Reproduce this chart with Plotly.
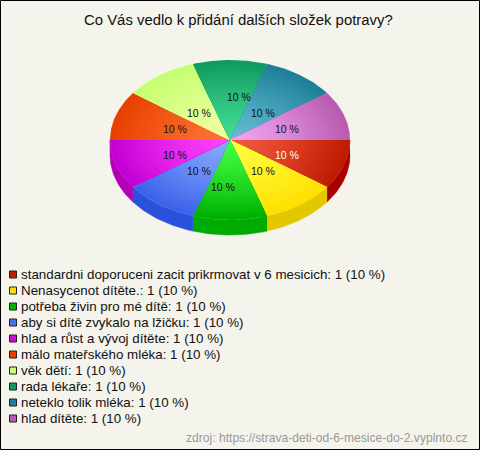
import numpy as np
import plotly.graph_objects as go

TITLE = "Co Vás vedlo k přidání dalších složek potravy?"
SOURCE = "zdroj: https://strava-deti-od-6-mesice-do-2.vyplnto.cz"
categories = [
    "standardni doporuceni zacit prikrmovat v 6 mesicich",
    "Nenasycenot dítěte.",
    "potřeba živin pro mé dítě",
    "aby si dítě zvykalo na lžičku",
    "hlad a růst a vývoj dítěte",
    "málo mateřského mléka",
    "věk dětí",
    "rada lékaře",
    "neteklo tolik mléka",
    "hlad dítěte",
]
values = [1, 1, 1, 1, 1, 1, 1, 1, 1, 1]
outer_colors = ["#c01c00", "#ffe000", "#00b000", "#3c62ea", "#c400d4",
                "#e84000", "#c4ff70", "#0f9a60", "#1f7f98", "#b85cb0"]
inner_colors = ["#f25a40", "#ffff40", "#44ff44", "#86abff", "#ff44ff",
                "#ff7434", "#f2ffa4", "#44dc94", "#64bcd4", "#f2a4f2"]
side_colors = ["#a80000", "#e3c800", "#00aa00", "#2b50dc", "#b000b8"]
legend_colors = ["#c01c00", "#ffe000", "#00b400", "#4a70f0", "#c810d8",
                 "#e84000", "#c8ff78", "#109a60", "#1f7f98", "#b85cb0"]

BG = "#f4f3ec"
CX, CY, RX, RY, DEPTH = 230, 140, 120, 80, 15
STEPS = 24
FONT = "Liberation Sans, Arial, sans-serif"
LABEL_DX = [57, 33, -7, -31, -55, -55, -31, 9, 33, 57]
LABEL_DY = [15, 31, 47, 31, 15, -11, -27, -43, -27, -11]


def hex_rgb(h):
    return np.array([int(h[i:i + 2], 16) for i in (1, 3, 5)], float)


def mix(a, b, t):
    c = hex_rgb(a) * (1 - t) + hex_rgb(b) * t
    return "rgb(%d,%d,%d)" % tuple(c.round())


fig = go.Figure()
shares = np.array(values, float) / sum(values)
edges = np.concatenate([[0], np.cumsum(shares)]) * 2 * np.pi

# side wall, visible for the front half only
for i in range(len(values)):
    a0, a1 = edges[i], min(edges[i + 1], np.pi)
    if a0 >= np.pi - 1e-9:
        continue
    t = np.linspace(a0, a1, 30)
    xs = CX + RX * np.cos(t)
    ys = CY + RY * np.sin(t)
    fig.add_trace(go.Scatter(
        x=np.concatenate([xs, xs[::-1]]),
        y=np.concatenate([ys, ys[::-1] + DEPTH]),
        fill="toself", fillcolor=side_colors[i], mode="lines",
        line=dict(width=0.5, color=side_colors[i]), hoverinfo="skip"))

# top face: nested wedges give the radial shading
for i in range(len(values)):
    t = np.linspace(edges[i], edges[i + 1], 40)
    for s in range(STEPS):
        k = 1 - s / STEPS
        xs = np.concatenate([[CX], CX + k * RX * np.cos(t)])
        ys = np.concatenate([[CY], CY + k * RY * np.sin(t)])
        col = mix(inner_colors[i], outer_colors[i], k ** 1.3)
        fig.add_trace(go.Scatter(
            x=xs, y=ys, fill="toself", fillcolor=col, mode="lines",
            line=dict(width=0, color=col), hoverinfo="skip"))

ann = []
for i, v in enumerate(values):
    ann.append(dict(
        x=CX + LABEL_DX[i], y=CY + LABEL_DY[i],
        text="%d %%" % round(100 * shares[i]), showarrow=False,
        font=dict(family=FONT, size=10.5, color="#ffffff" if i == 0 else "#111111")))

# legend rows
rows = [274.5 + 16 * i for i in range(len(categories))]
fig.add_trace(go.Scatter(
    x=[13] * len(categories), y=rows, mode="markers",
    marker=dict(symbol="square", size=7, color=legend_colors,
                line=dict(color="#222222", width=1)),
    hoverinfo="skip"))
for i, (c, v) in enumerate(zip(categories, values)):
    ann.append(dict(
        x=18.5, y=rows[i], xanchor="left", yanchor="middle", showarrow=False,
        text="%s: %d (%d %%)" % (c, v, round(100 * shares[i])),
        font=dict(family=FONT, size=13.35, color="#111111")))
ann.append(dict(x=470, y=438, xanchor="right", yanchor="middle", showarrow=False,
                text=SOURCE, font=dict(family=FONT, size=12.1, color="#999999")))
ann.append(dict(x=238, y=20, xanchor="center", yanchor="middle", showarrow=False,
                text=TITLE, font=dict(family=FONT, size=14.9, color="#111111")))

fig.update_layout(
    width=480, height=450, autosize=False,
    margin=dict(l=0, r=0, t=0, b=0),
    paper_bgcolor=BG, plot_bgcolor=BG, showlegend=False,
    xaxis=dict(range=[0, 480], visible=False, fixedrange=True),
    yaxis=dict(range=[450, 0], visible=False, fixedrange=True),
    annotations=ann,
    shapes=[dict(type="rect", xref="x", yref="y", x0=0.5, y0=0.5, x1=479.5, y1=449.5,
                 line=dict(color="#000000", width=1))],
)
fig.write_html("out.html", config=dict(displayModeBar=False),
               post_script="document.body.style.margin='0';document.body.style.overflow='hidden';")
